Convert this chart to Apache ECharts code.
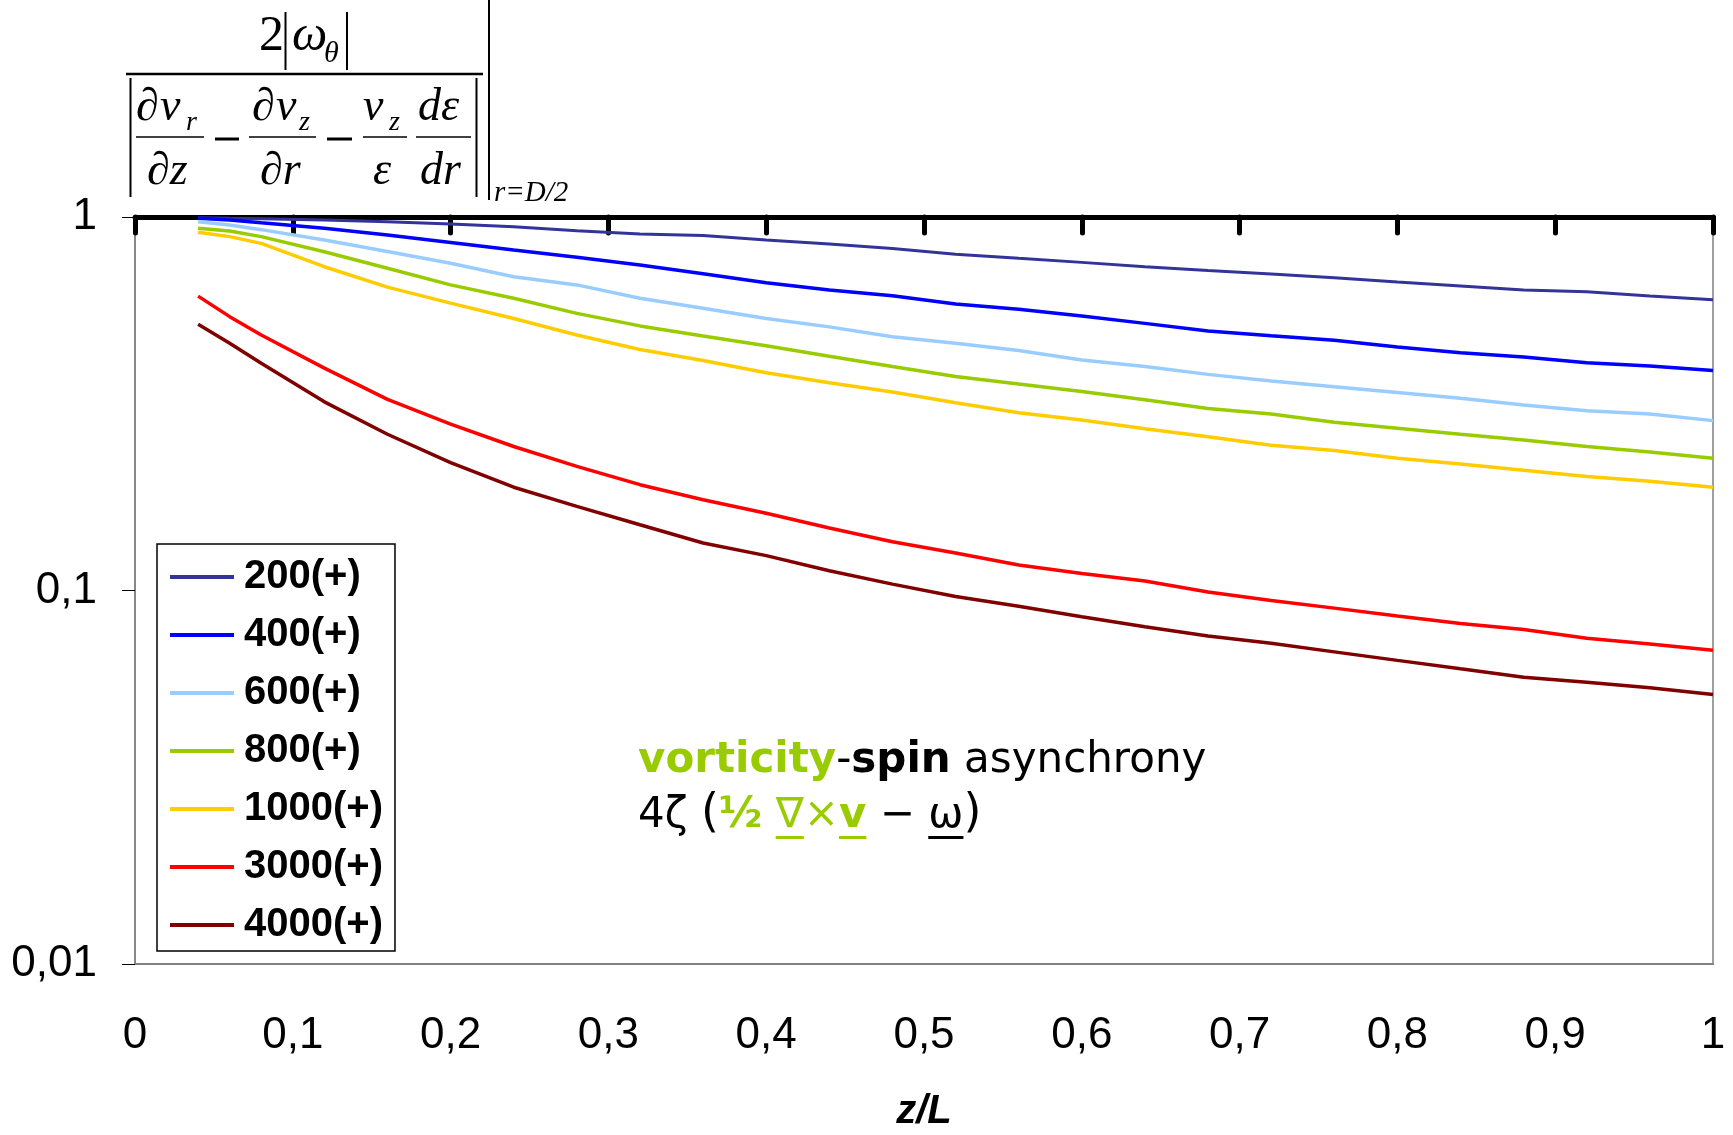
<!DOCTYPE html>
<html>
<head>
<meta charset="utf-8">
<script src="https://cdn.jsdelivr.net/npm/echarts@6/dist/echarts.min.js"></script>
<style>
html,body{margin:0;padding:0;background:#fff;}
#chart{width:1733px;height:1135px;}
</style>
</head>
<body>
<div id="chart"></div>
<script>
// ---------- data ----------
const xValues = [0.04,0.06,0.08,0.12,0.16,0.20,0.24,0.28,0.32,0.36,0.40,0.44,0.48,0.52,0.56,0.60,0.64,0.68,0.72,0.76,0.80,0.84,0.88,0.92,0.96,1.00];
const seriesNames = ['200(+)','400(+)','600(+)','800(+)','1000(+)','3000(+)','4000(+)'];
const s200  = [0.995,0.992,0.990,0.982,0.971,0.958,0.942,0.919,0.901,0.892,0.868,0.847,0.824,0.795,0.775,0.756,0.736,0.719,0.704,0.688,0.670,0.654,0.638,0.631,0.614,0.600];
const s400  = [0.992,0.982,0.965,0.933,0.895,0.855,0.816,0.780,0.744,0.705,0.667,0.638,0.615,0.585,0.566,0.543,0.519,0.495,0.481,0.468,0.449,0.433,0.422,0.407,0.399,0.388];
const s600  = [0.971,0.952,0.925,0.868,0.808,0.752,0.692,0.658,0.606,0.570,0.535,0.508,0.478,0.459,0.439,0.414,0.398,0.379,0.364,0.351,0.339,0.327,0.314,0.303,0.297,0.285];
const s800  = [0.933,0.917,0.886,0.807,0.729,0.658,0.606,0.552,0.511,0.480,0.452,0.424,0.398,0.374,0.357,0.341,0.324,0.307,0.297,0.282,0.272,0.262,0.253,0.243,0.235,0.226];
const s1000 = [0.910,0.886,0.850,0.736,0.649,0.588,0.535,0.483,0.442,0.413,0.383,0.360,0.340,0.318,0.299,0.286,0.271,0.258,0.245,0.237,0.226,0.218,0.210,0.202,0.196,0.189];
const s3000 = [0.614,0.541,0.483,0.394,0.325,0.279,0.243,0.215,0.192,0.175,0.161,0.147,0.135,0.126,0.117,0.111,0.106,0.0991,0.0940,0.0897,0.0855,0.0816,0.0786,0.0745,0.0719,0.0692];
const s4000 = [0.516,0.459,0.406,0.320,0.262,0.220,0.189,0.168,0.150,0.134,0.124,0.113,0.104,0.0964,0.0908,0.0851,0.0800,0.0755,0.0722,0.0685,0.0650,0.0617,0.0586,0.0568,0.0549,0.0527];
const seriesValues = [s200,s400,s600,s800,s1000,s3000,s4000];
const seriesColors = ['#333399','#0000FF','#99CCFF','#99CC00','#FFCC00','#FF0000','#800000'];
const xTickLabels = ['0','0,1','0,2','0,3','0,4','0,5','0,6','0,7','0,8','0,9','1'];
const yTickLabels = {1:'1', 0.1:'0,1', 0.01:'0,01'};

// ---------- helpers ----------
const GREEN = '#99CC00';
const SERIF = '"Liberation Serif", "Times New Roman", serif';
const SANS = '"Liberation Sans", Arial, sans-serif';
const VERD = '"DejaVu Sans", Verdana, sans-serif';
const mctx = document.createElement('canvas').getContext('2d');
function measure(txt, size, family, weight, style){
  mctx.font = (style||'normal') + ' ' + (weight||'normal') + ' ' + size + 'px ' + family;
  return mctx.measureText(txt).width;
}
const graphics = [];
function T(x, base, txt, size, opts){
  opts = opts || {};
  const fam = opts.family || SERIF;
  graphics.push({
    type:'text', z:100,
    style:{
      text: txt, x: x, y: base - 0.34*size,
      fontSize: size, fontFamily: fam,
      fontWeight: opts.weight || 'normal', fontStyle: opts.style || 'normal',
      fill: opts.color || '#000',
      textAlign: opts.align || 'left', align: opts.align || 'left',
      textVerticalAlign:'middle', verticalAlign:'middle'
    }
  });
}
function L(x1,y1,x2,y2,w,color){
  graphics.push({type:'line', z:100, shape:{x1:x1,y1:y1,x2:x2,y2:y2}, style:{stroke:color||'#000', lineWidth:w}});
}

// ---------- formula (y-axis title) ----------
T(259, 54, '2', 50);
T(292, 54, 'ω', 50, {style:'italic'});
T(324, 64, 'θ', 30, {style:'italic'});
L(285.5, 12, 285.5, 70, 2);
L(347, 12, 347, 70, 2);
L(126, 74, 483, 74, 2.5);
L(130.5, 78, 130.5, 197, 2);
L(476.5, 78, 476.5, 197, 2);
L(489, 0, 489, 200, 2);
// dv_r/dz
T(136, 124, '∂', 46, {style:'italic'});
T(160, 124, 'v', 46, {style:'italic'});
T(186, 132, 'r', 28, {style:'italic'});
L(136, 137, 204, 137, 1.5);
T(147, 188, '∂z', 46, {style:'italic'});
L(215, 139, 239, 139, 3);
// dv_z/dr
T(252, 124, '∂', 46, {style:'italic'});
T(276, 124, 'v', 46, {style:'italic'});
T(299, 132, 'z', 28, {style:'italic'});
L(249, 137, 316, 137, 1.5);
T(260, 188, '∂r', 46, {style:'italic'});
L(327, 139, 352, 139, 3);
// v_z/eps
T(363, 124, 'v', 46, {style:'italic'});
T(389, 132, 'z', 28, {style:'italic'});
L(363, 137, 407, 137, 1.5);
T(373, 188, 'ε', 46, {style:'italic'});
// d eps / dr
T(418, 124, 'dε', 46, {style:'italic'});
L(416, 137, 471, 137, 1.5);
T(420, 188, 'dr', 46, {style:'italic'});
T(494, 203, 'r=D/2', 29, {style:'italic'});

// ---------- annotation ----------
function segLine(x0, base, size, segs){
  let x = x0;
  segs.forEach(s => {
    const sz = s.s || size;
    const w = measure(s.t, sz, VERD, s.b ? 'bold' : 'normal');
    T(x, base, s.t, sz, {family:VERD, weight: s.b ? 'bold' : 'normal', color: s.c || '#000'});
    if (s.u) {
      graphics.push({type:'rect', z:100, shape:{x:x, y:base+6, width:w, height:3}, style:{fill:s.c||'#000'}});
    }
    x += w;
  });
}
segLine(638, 775, 42, [
  {t:'vorticity', b:true, c:GREEN},
  {t:'-'},
  {t:'spin', b:true},
  {t:' asynchrony'}
]);
segLine(638, 830, 42, [
  {t:'4ζ '},
  {t:'(', s:46},
  {t:'½', b:true, c:GREEN},
  {t:' '},
  {t:'∇', c:GREEN, u:true},
  {t:'×', c:GREEN},
  {t:'v', b:true, c:GREEN, u:true},
  {t:' − '},
  {t:'ω', u:true},
  {t:')', s:46}
]);

// ---------- chart ----------
const chart = echarts.init(document.getElementById('chart'), null, {renderer:'canvas'});
const series = seriesNames.map((name, i) => ({
  name: name,
  type: 'line',
  xAxisIndex: 0,
  yAxisIndex: 0,
  symbol: 'none',
  smooth: false,
  color: seriesColors[i],
  lineStyle: {color: seriesColors[i], width: i === 0 ? 3 : 3.5},
  data: xValues.map((x, k) => [x, seriesValues[i][k]]),
  z: 2 + i
}));

chart.setOption({
  animation: false,
  backgroundColor: '#fff',
  grid: {left:135, right:20, top:217, bottom:171, containLabel:false, outerBoundsMode:'none',
    show:true, borderColor:'#808080', borderWidth:1.5, backgroundColor:'transparent'},
  legend: {
    orient:'vertical', left:157, top:544,
    padding:[13, 12, 6, 13],
    borderColor:'#000', borderWidth:1.5, backgroundColor:'#fff',
    icon:'rect', itemWidth:64, itemHeight:4, itemGap:18,
    textStyle:{fontFamily:SANS, fontWeight:'bold', fontSize:40, lineHeight:40, color:'#000', padding:[0,0,0,5]},
    data: seriesNames
  },
  xAxis: [
    {
      type:'value', min:0, max:1, interval:0.1, position:'bottom',
      axisLine:{show:true, lineStyle:{color:'#808080', width:2}},
      axisTick:{show:false}, splitLine:{show:false},
      axisLabel:{margin:50, fontFamily:SANS, fontSize:44, color:'#000',
        formatter: v => xTickLabels[Math.round(v*10)]},
      name:'z/L', nameLocation:'middle', nameGap:128,
      nameTextStyle:{fontFamily:SANS, fontSize:40, fontWeight:'bold', fontStyle:'italic', color:'#000'}
    },
    {
      type:'value', min:0, max:1, interval:0.1, position:'top',
      axisLine:{show:true, onZero:false, lineStyle:{color:'#000', width:5}},
      axisTick:{show:true, inside:true, length:16, lineStyle:{color:'#000', width:5, cap:'round'}},
      axisLabel:{show:false}, splitLine:{show:false}
    }
  ],
  yAxis: [{
    type:'log', logBase:10, min:0.01, max:1,
    axisLine:{show:true, lineStyle:{color:'#808080', width:1.5}},
    axisTick:{show:true, inside:false, length:13, lineStyle:{color:'#000', width:1}},
    splitLine:{show:false},
    minorTick:{show:false},
    axisLabel:{margin:38, fontFamily:SANS, fontSize:44, color:'#000',
      formatter: v => { for (const k in yTickLabels) { if (Math.abs(Math.log10(v) - Math.log10(+k)) < 1e-6) return yTickLabels[k]; } return ''; }}
  }],
  series: series,
  graphic: graphics
});
</script>
</body>
</html>
